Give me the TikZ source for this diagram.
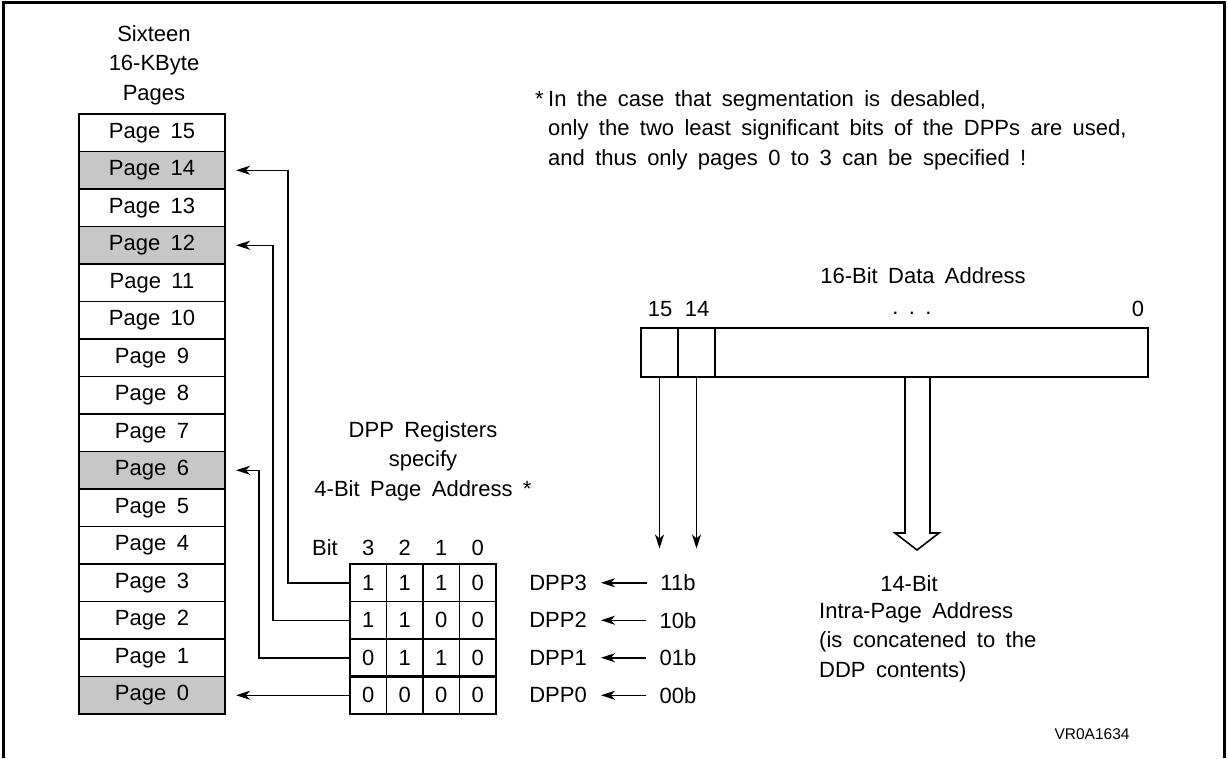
\documentclass[tikz,border=0pt]{standalone}
\usepackage{fontspec}
\setmainfont{Liberation Sans}[WordSpace=1.7]
\usetikzlibrary{positioning,arrows.meta,calc}
\tikzset{
  strana/.style={draw,line width=1.6pt,outer sep=0pt,minimum width=146pt,minimum height=37.5pt,inner sep=0pt},
  stranaS/.style={strana,fill=black!22},
  bunka/.style={draw,line width=1.6pt,outer sep=0pt,minimum width=36.5pt,minimum height=37.5pt,inner sep=0pt},
  adresa/.style={draw,line width=1.6pt,outer sep=0pt,minimum height=49pt,inner sep=0pt},
  popis/.style={inner sep=1pt},
  sip/.style={-{Stealth[length=14pt,width=9pt,inset=4pt]},line width=1.5pt},
}

\begin{document}
\begin{tikzpicture}[x=1pt,y=-1pt,font=\fontsize{22}{29.5}\selectfont,node distance=0pt]
  \useasboundingbox (0,0) rectangle (1228,758);
  \draw[line width=3pt] (3.5,758) -- (3.5,2) -- (1224.5,2) -- (1224.5,758);
  \node[align=center] (nadpis) at (154,65) {Sixteen\\16-KByte\\Pages};
  \node[strana] (p15) at (152,132.75) {Page 15};
  \foreach \i/\st in {14/stranaS,13/strana,12/stranaS,11/strana,10/strana,9/strana,8/strana,7/strana,
                      6/stranaS,5/strana,4/strana,3/strana,2/strana,1/strana,0/stranaS}{
    \pgfmathtruncatemacro\j{\i+1}
    \node[\st] (p\i) [below=of p\j] {Page \i};
  }
  \node[align=center] (dppreg) at (423,461) {DPP Registers\\specify\\4-Bit Page Address *};
  \node (bit) at (325,548) {Bit};
  \foreach \b [count=\c] in {3,2,1,0} \node (h\c) at ({331.75+36.5*\c},548) {\b};
  \foreach \r/\bits in {3/{1,1,1,0},2/{1,1,0,0},1/{0,1,1,0},0/{0,0,0,0}}
    \foreach \v [count=\c] in \bits
      \node[bunka] (b\r\c) at ({331.75+36.5*\c},0 |- p\r) {\v};
  \draw[line width=3.2pt] (b11.south west) -- (b14.south east);
  \draw[sip,shorten >=11pt] (b31.west) -- ++(-62,0) |- (p14.east);
  \draw[sip,shorten >=11pt] (b21.west) -- ++(-77,0) |- (p12.east);
  \draw[sip,shorten >=11pt] (b11.west) -- ++(-91,0) |- (p6.east);
  \draw[sip,shorten >=11pt] (b01.west) -- (p0.east);
  \foreach \r/\v in {3/11b,2/10b,1/01b,0/00b}{
    \node[popis] (d\r) at (558,0 |- p\r) {DPP\r};
    \node[popis] (v\r) at (678,0 |- p\r) {\v};
    \draw[sip,shorten <=12pt,shorten >=13pt] (v\r) -- (d\r);
  }
  \node[anchor=base west,inner sep=0pt] (hviezda) at (535,106) {*};
  \node[anchor=north west,align=left,inner sep=0pt] (pozn) at (548,90)
    {In the case that segmentation is desabled,\\only the two least significant bits of the DPPs are used,\\and thus only pages 0 to 3 can be specified !};
  \node (adrtit) at (923,276) {16-Bit Data Address};
  \node[anchor=base] (l15) at (660,316) {15};
  \node[anchor=base] (l14) at (697,316) {14};
  \node[anchor=base] (bodky) at (912,314) {.\ .\ .};
  \node[anchor=base] (l0) at (1138,316) {0};
  \node[adresa,minimum width=37pt] (a15) at (659.5,352.5) {};
  \node[adresa,minimum width=37pt,right=of a15] (a14) {};
  \node[adresa,minimum width=433pt,right=of a14] (a0) {};
  \draw[sip,shorten >=25pt] (a15.south) -- (a15.south |- v3.north);
  \draw[sip,shorten >=25pt] (a14.south) -- (a14.south |- v3.north);
  \draw[line width=1.6pt,line join=miter] (905,377) -- (905,533) -- (895,533) -- (917,550) -- (939,533) -- (930,533) -- (930,377);
  \node (t14) at (909,584) {14-Bit};
  \node[anchor=west,align=left,inner sep=0pt] (intra) at (819,642) {Intra-Page Address\\(is concatened to the\\DDP contents)};
  \node[font=\fontsize{15.5}{18}\selectfont] (kod) at (1092,734) {VR0A1634};
\end{tikzpicture}
\end{document}
